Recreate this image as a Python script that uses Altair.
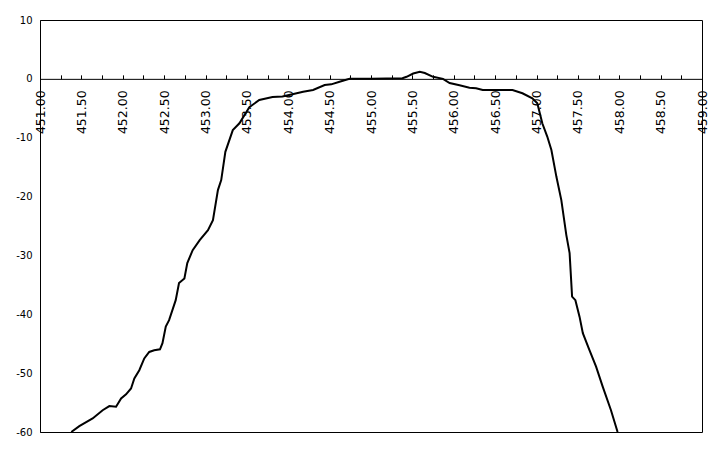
import altair as alt
import pandas as pd

freq = [451.378, 451.475, 451.636, 451.757, 451.838, 451.919, 451.98, 452.04, 452.10, 452.14,
        452.20, 452.26, 452.32, 452.38, 452.45, 452.48, 452.52, 452.56, 452.60, 452.64,
        452.68, 452.745, 452.78, 452.845, 452.93, 453.03, 453.09, 453.15, 453.19, 453.24,
        453.33, 453.41, 453.53, 453.65, 453.81, 453.93, 454.05, 454.18, 454.30, 454.44,
        454.52, 454.62, 454.74, 455.00, 455.38, 455.43, 455.51, 455.59, 455.65, 455.75,
        455.87, 455.95, 456.07, 456.19, 456.27, 456.35, 456.71, 456.83, 456.95, 457.01,
        457.07, 457.13, 457.18, 457.24, 457.30, 457.36, 457.40, 457.43, 457.47, 457.52,
        457.56, 457.64, 457.72, 457.80, 457.90, 457.98]
level = [-60.0, -59.0, -57.7, -56.3, -55.6, -55.7, -54.3, -53.6, -52.6, -50.9,
         -49.5, -47.5, -46.4, -46.1, -45.95, -44.9, -42.1, -41.0, -39.3, -37.6,
         -34.7, -33.9, -31.3, -29.1, -27.4, -25.7, -24.0, -18.9, -17.2, -12.4,
         -8.7, -7.55, -4.8, -3.6, -3.1, -3.0, -2.6, -2.2, -1.9, -1.04,
         -0.93, -0.48, 0.0, 0.0, 0.1, 0.35, 0.9, 1.2, 1.0, 0.35,
         0.0, -0.7, -1.1, -1.5, -1.6, -1.9, -1.9, -2.45, -3.3, -4.15,
         -7.55, -9.8, -12.1, -16.6, -20.6, -26.5, -29.6, -37.0, -37.6, -40.4,
         -43.2, -46.1, -48.9, -52.3, -56.3, -60.0]

x_labels = [451.0 + 0.5 * i for i in range(17)]
x_minor = [451.0 + 0.25 * i for i in range(33)]
y_ticks = [-60, -50, -40, -30, -20, -10, 0, 10]

df = pd.DataFrame({"freq": freq, "level": level})

W, H = 662, 412
zero_px = H * 10 / 70.0

xscale = alt.Scale(domain=[451, 459], nice=False, zero=False)
yscale = alt.Scale(domain=[-60, 10], nice=False, zero=False)


def yaxis():
    return alt.Axis(values=y_ticks, grid=False, ticks=False, domainColor="black", domainWidth=1,
                    labelExpr="'' + datum.value", labelFont="DejaVu Sans", labelFontSize=10,
                    labelColor="black", labelPadding=8, title=None)


line = alt.Chart(df).mark_line(color="black", strokeWidth=2, clip=True).encode(
    x=alt.X("freq:Q", scale=xscale,
            axis=alt.Axis(orient="bottom", values=x_labels, format=".2f", labelAngle=270,
                          labelAlign="right", labelBaseline="middle", ticks=False, domain=False,
                          grid=False, offset=-(H - zero_px), labelPadding=11,
                          labelFont="DejaVu Sans", labelFontSize=12.5, labelColor="black",
                          labelOverlap=False, labelFlush=False, title=None)),
    y=alt.Y("level:Q", scale=yscale, axis=yaxis()),
)

ticks_layer = alt.Chart(df).mark_line(strokeOpacity=0).encode(
    x=alt.X("freq:Q", scale=xscale,
            axis=alt.Axis(orient="top", values=x_minor, labels=False, ticks=True, tickSize=4,
                          tickColor="black", tickWidth=1, domain=True, domainColor="black",
                          domainWidth=1, grid=False, offset=-zero_px, title=None)),
    y=alt.Y("level:Q", scale=yscale, axis=yaxis()),
)

chart = alt.layer(line, ticks_layer).resolve_axis(x="independent").properties(
    width=W, height=H,
    autosize=alt.AutoSizeParams(type="none"),
    padding={"left": 32, "top": 12, "right": 10, "bottom": 10},
    background="white",
).configure_view(stroke="black", strokeWidth=1)

chart.save("out.html", embed_options={"renderer": "svg", "actions": False})
